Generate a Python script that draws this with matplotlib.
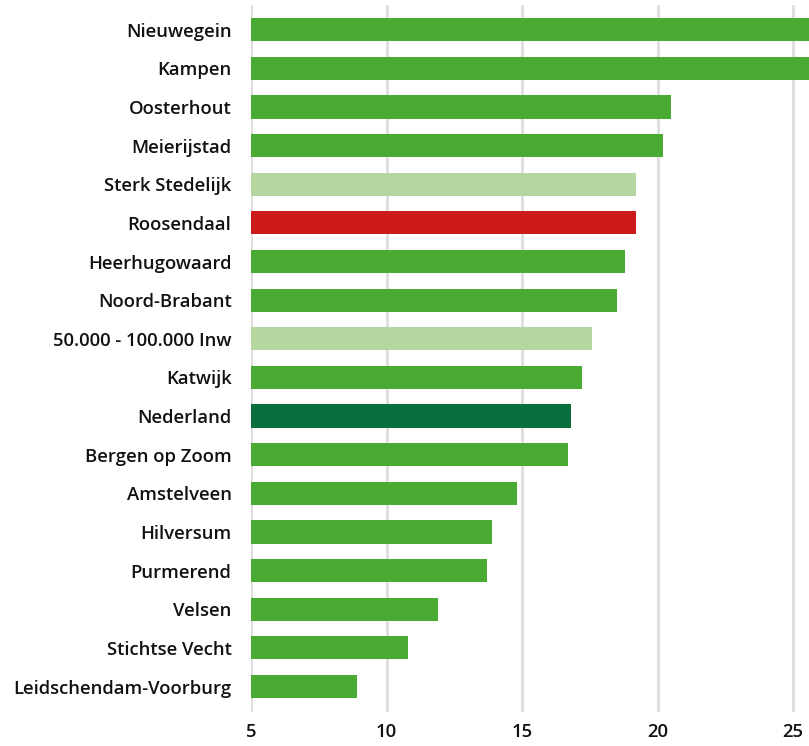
import matplotlib
matplotlib.use("Agg")
import matplotlib.pyplot as plt

# data (top to bottom)
names = ["Nieuwegein", "Kampen", "Oosterhout", "Meierijstad", "Sterk Stedelijk",
         "Roosendaal", "Heerhugowaard", "Noord-Brabant", "50.000 - 100.000 Inw",
         "Katwijk", "Nederland", "Bergen op Zoom", "Amstelveen", "Hilversum",
         "Purmerend", "Velsen", "Stichtse Vecht", "Leidschendam-Voorburg"]
values = [26.5, 26.0, 20.5, 20.2, 19.2, 19.2, 18.8, 18.5, 17.6,
          17.2, 16.8, 16.7, 14.8, 13.9, 13.7, 11.9, 10.8, 8.9]
kinds = ["gem", "gem", "gem", "gem", "ref", "focus", "gem", "gem", "ref",
         "gem", "nl", "gem", "gem", "gem", "gem", "gem", "gem", "gem"]
ticks = [5, 10, 15, 20, 25]

colors = {"gem": "#4aab34", "ref": "#b5d6a0", "focus": "#cc1a1a", "nl": "#086e3b"}

plt.rcParams['font.family'] = ['Open Sans', 'DejaVu Sans']

fig = plt.figure(figsize=(8.09, 7.46), dpi=100)
ax = fig.add_axes([251 / 809, 34 / 746, 558 / 809, 707 / 746])

y = list(range(len(names)))
ax.barh(y, [v - 5 for v in values], left=5, height=0.6,
        color=[colors[k] for k in kinds], zorder=2)

ax.set_xlim(5, 25.59)
ax.set_ylim(17.66, -0.64)
ax.set_xticks(ticks)
ax.set_yticks(y)
ax.set_yticklabels(names, fontsize=13.3, fontweight="semibold", color="#111111")
ax.set_xticklabels([str(t) for t in ticks], fontsize=13.3, fontweight="semibold", color="#111111")
ax.tick_params(length=0)
ax.tick_params(axis="y", pad=14)
ax.tick_params(axis="x", pad=8)
ax.grid(axis="x", color="#dddddd", linewidth=2, zorder=0)
for s in ax.spines.values():
    s.set_visible(False)

fig.savefig("out.png", dpi=100)
